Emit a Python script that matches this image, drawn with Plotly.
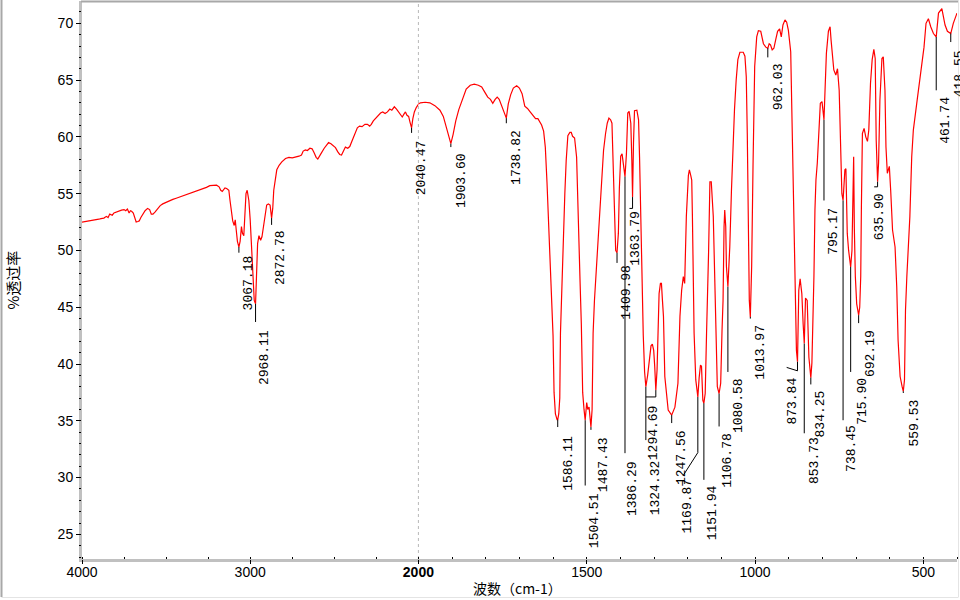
import plotly.graph_objects as go

# ---------------- spectrum data (wavenumber cm-1, %T) ----------------
wavenumber = [
    4000, 3975, 3950, 3925, 3900, 3887, 3870, 3855, 3845, 3835, 3820, 3810, 3795, 3780, 3765, 3750,
    3740, 3730, 3720, 3712, 3705, 3695, 3685, 3678, 3668, 3660, 3650, 3638, 3625, 3610, 3598, 3588,
    3578, 3565, 3550, 3535, 3520, 3500, 3480, 3460, 3440, 3420, 3400, 3380, 3360, 3340, 3320, 3300,
    3280, 3260, 3240, 3220, 3200, 3185, 3175, 3166, 3150, 3140, 3127, 3120, 3112, 3104, 3095, 3089,
    3083, 3076, 3067.18, 3060, 3052, 3046, 3038, 3031, 3025, 3018, 3008, 3000, 2992, 2984, 2976,
    2968.11, 2963, 2956, 2948, 2938, 2930, 2922, 2912, 2902, 2892, 2882, 2872.78, 2866, 2860, 2852,
    2842, 2828, 2812, 2790, 2770, 2750, 2730, 2710, 2695, 2685, 2672, 2660, 2645, 2632, 2620, 2608,
    2598, 2590, 2580, 2560, 2545, 2534, 2520, 2505, 2493, 2480, 2468, 2457, 2445, 2434, 2420, 2408,
    2396, 2386, 2374, 2363, 2350, 2335, 2318, 2303, 2290, 2280, 2268, 2256, 2240, 2225, 2212, 2198,
    2184, 2170, 2158, 2143, 2130, 2119, 2106, 2096, 2086, 2077, 2068, 2058, 2050, 2040.47, 2033, 2024,
    2012, 2000, 1994, 1980, 1966, 1951, 1936, 1926, 1917, 1910, 1903.6, 1897, 1889, 1880, 1869, 1858,
    1846, 1834, 1822, 1812, 1802, 1794, 1786, 1779, 1772, 1766, 1760, 1752, 1745, 1738.82, 1733, 1726,
    1718, 1708, 1700, 1692, 1684, 1676, 1668, 1660, 1652, 1645, 1640, 1634, 1628, 1623, 1618, 1614,
    1609, 1604, 1600, 1597, 1593, 1588, 1586.11, 1583, 1580, 1578, 1575, 1570, 1565, 1561, 1556, 1550,
    1546, 1542, 1536, 1530, 1527, 1524, 1520, 1516, 1512, 1508, 1504.51, 1500, 1497, 1493, 1490,
    1487.43, 1484, 1481, 1477, 1471, 1465, 1460, 1455, 1450, 1444, 1439, 1434, 1429, 1425, 1421, 1418,
    1414, 1409.98, 1406, 1403, 1399, 1395, 1390, 1386.29, 1382, 1378, 1374, 1369, 1366, 1363.79, 1361,
    1358, 1351, 1346, 1343, 1340, 1336, 1332, 1328, 1324.32, 1319, 1314, 1309, 1305, 1301, 1298,
    1294.69, 1291, 1288, 1285, 1281, 1278, 1275, 1272, 1268, 1258, 1247.56, 1238, 1229, 1223, 1218,
    1213, 1209, 1204, 1198, 1195, 1191, 1188, 1186, 1183, 1181, 1176, 1169.87, 1166, 1162, 1159, 1155,
    1151.94, 1148, 1144, 1141, 1138, 1134, 1130, 1124, 1120, 1116, 1112, 1106.78, 1102, 1098, 1095,
    1092, 1090, 1087, 1085, 1080.58, 1078, 1075, 1070, 1065, 1061, 1056, 1051, 1045, 1035, 1030, 1026,
    1023, 1020, 1017, 1013.97, 1010, 1006, 1001, 995, 990, 983, 975, 968, 962.03, 958, 954, 949, 944,
    939, 933, 927, 922, 917, 911, 906, 901, 894, 889, 885, 881, 877, 873.84, 870, 866, 861, 857, 853.73,
    850, 845, 840, 834.25, 831, 828, 825, 822, 819, 815, 811, 806, 801, 795.17, 792, 788, 782, 777, 774,
    770, 766, 760, 755, 750, 747, 742, 738.45, 733, 730, 726, 722, 715.9, 712, 709, 707, 705, 702, 698,
    692.19, 689, 686, 684, 681, 676, 671, 666, 662, 657, 652, 647, 643, 640, 635.9, 633, 629, 623, 619,
    614, 611, 607, 601, 597, 591.5, 584, 579, 575, 569, 563, 559.53, 556, 553, 549, 540, 534.5, 529.7,
    519.6, 512, 505, 498, 492, 485, 478, 470, 461.74, 455, 445, 440, 435.5, 428.5, 418.55, 411, 405, 400,
]
transmittance = [
    52.5, 52.55, 52.6, 52.7, 52.75, 52.8, 52.85, 53.0, 52.9, 53.2, 53.1, 53.3, 53.4, 53.5, 53.55, 53.6,
    53.5, 53.65, 53.3, 53.5, 53.45, 53.3, 52.8, 52.5, 52.55, 52.6, 52.9, 53.2, 53.5, 53.7, 53.6, 53.2,
    53.2, 53.4, 53.7, 53.95, 54.1, 54.25, 54.35, 54.5, 54.6, 54.7, 54.8, 54.95, 55.05, 55.15, 55.25, 55.35,
    55.45, 55.55, 55.7, 55.75, 55.75, 55.6, 55.3, 55.2, 55.5, 55.45, 55.3, 54.4, 53.4, 52.6, 52.2, 52.7,
    51.8, 50.8, 50.3, 50.8, 52.1, 51.5, 51.3, 53.0, 55.0, 55.3, 54.4, 52.7, 50.0, 46.8, 45.6,
    45.3, 48.0, 50.6, 51.3, 50.9, 51.2, 52.0, 53.0, 54.0, 54.1, 54.0, 52.85, 53.7, 55.3, 56.2,
    57.1, 57.5, 57.8, 58.1, 58.2, 58.15, 58.2, 58.3, 58.4, 58.75, 58.85, 58.8, 59.0, 58.95, 58.6, 58.2,
    58.05, 58.3, 58.5, 59.0, 59.35, 59.5, 59.4, 59.2, 59.05, 58.7, 58.45, 58.4, 58.8, 59.1, 59.0, 59.15,
    59.6, 60.0, 60.5, 60.8, 60.95, 60.9, 61.1, 61.1, 60.95, 61.1, 61.4, 61.6, 61.9, 62.1, 62.2, 62.05,
    62.2, 62.45, 62.35, 62.65, 62.45, 62.2, 61.9, 61.75, 62.0, 62.2, 61.9, 61.8, 61.3, 60.8, 61.6, 62.2,
    62.6, 62.9, 63.0, 63.05, 63.0, 62.75, 62.35, 61.8, 60.8, 59.9, 59.4, 60.2, 61.4, 62.4, 63.4, 64.2,
    64.55, 64.65, 64.55, 64.4, 63.9, 63.5, 63.3, 62.95, 63.3, 63.5, 63.3, 62.6, 62.0, 61.65, 62.9, 63.7,
    64.3, 64.5, 64.3, 63.8, 62.7, 62.5, 62.2, 61.9, 61.6, 61.6, 61.3, 61.05, 60.5, 59.1, 56.0, 52.9,
    50.0, 46.5, 42.5, 37.5, 35.6, 35.1, 35.1, 35.6, 37.0, 42.7, 45.8, 51.5, 55.0, 57.9, 60.1, 60.4,
    60.4, 60.05, 59.9, 58.2, 55.5, 52.5, 47.5, 43.5, 37.5, 36.0, 35.05, 36.6, 36.0, 36.2, 35.2,
    34.45, 36.0, 42.7, 45.6, 48.5, 51.6, 54.4, 57.3, 58.8, 60.3, 61.2, 61.65, 61.5, 61.2, 56.5, 53.0,
    50.0, 49.8, 51.5, 55.5, 58.3, 58.5, 57.5, 56.5, 58.5, 62.1, 62.25, 61.2, 58.0, 54.7, 59.5,
    62.3, 62.35, 61.5, 58.2, 52.9, 47.4, 42.5, 39.3, 38.0, 39.0, 40.5, 41.6, 41.75, 41.2, 39.8,
    37.7, 39.5, 43.9, 46.2, 47.1, 47.1, 45.6, 44.2, 38.9, 35.95, 35.5, 36.2, 38.3, 44.2, 46.5,
    47.7, 47.1, 53.0, 56.6, 57.1, 56.6, 56.2, 53.0, 47.7, 42.7, 38.6, 37.1, 38.8, 39.9, 39.8, 36.8,
    36.55, 37.4, 42.7, 45.6, 49.8, 56.05, 56.05, 53.0, 48.3, 41.2, 38.0, 37.4, 38.3, 43.0, 45.6,
    52.1, 53.55, 52.1, 48.6, 46.8, 48.0, 50.3, 55.3, 60.0, 62.4, 65.0, 66.8, 67.45, 67.45, 67.1, 65.3,
    60.3, 51.5, 45.6, 44.15, 48.6, 57.4, 66.2, 68.8, 69.35, 69.3, 68.2, 67.9, 67.8, 68.2, 68.1, 67.65, 67.8,
    68.5, 69.3, 69.5, 68.8, 69.85, 70.3, 70.1, 69.4, 67.5, 60.3, 51.8, 46.2, 41.2, 40.2, 46.5, 47.5, 46.2, 43.5, 41.8,
    45.8, 45.6, 40.6, 38.8, 40.1, 43.6, 47.7, 53.55, 56.2, 57.7, 60.0, 62.95, 63.1, 61.5, 64.1, 67.35, 69.3, 69.7, 68.5,
    66.8, 65.9, 65.45, 66.0, 64.1, 59.7, 55.0, 54.4, 57.1, 57.2, 51.5, 50.0, 48.55, 50.0, 54.4, 58.25, 52.0, 47.7, 45.3,
    44.3, 45.0, 47.7, 53.85, 60.3, 60.75, 60.0, 59.6, 60.6, 64.7, 66.8, 67.7, 66.9, 59.7, 56.05, 57.7, 63.25, 66.9, 67.05,
    64.1, 59.1, 56.8, 57.4, 55.3, 51.8, 50.3, 46.8, 42.1, 38.9, 38.0, 37.6, 38.6, 44.75, 47.7, 53.0, 58.25, 60.6,
    62.95, 64.7, 66.2, 67.9, 70.0, 70.4, 69.7, 69.1, 68.8, 70.9, 71.3, 70.6, 69.85, 69.3, 69.1, 70.0, 70.5, 70.9,
]

# ---------------- peak labels ----------------
peak_labels = ["3067.18", "2968.11", "2872.78", "2040.47", "1903.60", "1738.82", "1586.11", "1504.51",
               "1487.43", "1409.98", "1386.29", "1363.79", "1324.32", "1294.69", "1247.56", "1169.87",
               "1151.94", "1106.78", "1080.58", "1013.97", "962.03", "873.84", "853.73", "834.25",
               "795.17", "738.45", "715.90", "692.19", "635.90", "559.53", "461.74", "418.55"]
peak_T = [50.3, 45.3, 52.85, 60.8, 59.4, 61.65, 35.1, 35.05, 34.45, 49.8, 56.5, 54.7, 38.0, 37.7, 35.5, 37.1,
          36.55, 37.4, 46.8, 44.15, 67.8, 40.2, 41.8, 38.8, 61.5, 54.4, 48.55, 44.3, 56.05, 37.6, 68.8, 69.1]

# leader end (%T), text top (%T), text horizontal offset (px)
leader_end_T = [49.8, 43.7, 52.25, 60.35, 59.1, 61.2, 34.45, 29.3, 34.2, 48.9, 32.15, 53.7, 33.3, 37.1, 34.8,
                32.2, 29.8, 34.5, 39.3, 44.0, 67.0, 39.4, 33.9, 38.2, 54.4, 35.05, 39.3, 43.6, 55.6, 37.45,
                64.1, 68.35]
label_top_T = [49.6, 43.0, 51.8, 59.7, 58.6, 60.6, 33.7, 28.6, 33.6, 48.7, 31.5, 53.5, 31.55, 36.4, 34.2,
               29.95, 29.35, 33.9, 38.8, 43.45, 66.5, 38.8, 33.55, 37.7, 53.8, 34.6, 38.8, 43.0, 55.05, 36.85,
               63.5, 67.65]
label_dx = [10, 9, 9, 10, 10, 10, 10, 10, 12, 10, 7, 3, 10, -2, 10, -10, 9, 9, 10, 10, 11, -5, 10, 10, 10, 9,
            11, 12, 2, 11, 9, 9]
# extra leader vertices after the vertical drop
leader_bends = {"1363.79": [(1373.0, 53.7)], "1294.69": [(1324.32, 37.1)],
                "1169.87": [(1213.0, 30.2)], "873.84": [(906.0, 39.7)], "635.90": [(646.0, 55.6)]}

x_ticks_left = [4000, 3000]
x_ticks_right = [2000, 1500, 1000, 500]
x_ticktext_right = ["<b>2000</b>", "1500", "1000", "500"]
y_ticks = [25, 30, 35, 40, 45, 50, 55, 60, 65, 70]

SPLIT = 2000
RED = "#ff0000"

fig = go.Figure()

left_pts = [(w, t) for w, t in zip(wavenumber, transmittance) if w >= 1994]
right_pts = [(w, t) for w, t in zip(wavenumber, transmittance) if w <= 2006]
fig.add_trace(go.Scatter(x=[p[0] for p in left_pts], y=[p[1] for p in left_pts], mode="lines",
                         line=dict(color=RED, width=1.2), xaxis="x", yaxis="y", hoverinfo="skip"))
fig.add_trace(go.Scatter(x=[p[0] for p in right_pts], y=[p[1] for p in right_pts], mode="lines",
                         line=dict(color=RED, width=1.2), xaxis="x2", yaxis="y", hoverinfo="skip"))

# leader lines
lx = {"x": [], "x2": []}
ly = {"x": [], "x2": []}
annotations = []
for lab, pt, le, tt, dx in zip(peak_labels, peak_T, leader_end_T, label_top_T, label_dx):
    w = float(lab)
    ax = "x" if w > SPLIT else "x2"
    xs = [w, w]
    ys = [pt, le]
    for bw, bt in leader_bends.get(lab, []):
        xs.append(bw)
        ys.append(bt)
    lx[ax] += xs + [None]
    ly[ax] += ys + [None]
    annotations.append(dict(x=w, y=tt, xref=ax, yref="y", text=lab, showarrow=False,
                            textangle=-90, xanchor="center", yanchor="top", xshift=dx,
                            borderpad=0, borderwidth=0,
                            font=dict(family="Liberation Mono, DejaVu Sans Mono, monospace",
                                      size=13, color="#000000")))
for ax in ("x", "x2"):
    fig.add_trace(go.Scatter(x=lx[ax], y=ly[ax], mode="lines", line=dict(color="#000000", width=1),
                             xaxis=ax, yaxis="y", hoverinfo="skip", connectgaps=False))

# axis titles
annotations.append(dict(x=0.498, y=-0.052, xref="paper", yref="paper", text="波数（cm-1）",
                        showarrow=False, xanchor="center", yanchor="middle",
                        font=dict(family="Noto Sans CJK SC", size=14, color="#000000")))
annotations.append(dict(x=-0.080, y=0.50, xref="paper", yref="paper", text="%透过率",
                        showarrow=False, textangle=-90, xanchor="center", yanchor="middle",
                        font=dict(family="Noto Sans CJK SC", size=15, color="#000000")))

W_PLOT = 875.0
H_PLOT = 557.0
def px_x(p):
    return (p - 82.0) / W_PLOT
def px_y(p):
    return (559.0 - p) / H_PLOT

d_split = (418.4 - 82.0) / W_PLOT
band = "#c0c0c0"
shapes = [
    # grey axis bands
    dict(type="line", xref="paper", yref="paper", x0=px_x(80.5), x1=px_x(80.5), y0=px_y(1), y1=px_y(562),
         line=dict(color=band, width=3), layer="below"),
    dict(type="line", xref="paper", yref="paper", x0=px_x(79), x1=px_x(957), y0=px_y(560.5), y1=px_y(560.5),
         line=dict(color=band, width=3), layer="below"),
    # frame lines
    dict(type="line", xref="paper", yref="paper", x0=px_x(81), x1=px_x(958), y0=px_y(1.5), y1=px_y(1.5),
         line=dict(color="#a8a8a8", width=2), layer="below"),
    dict(type="line", xref="paper", yref="paper", x0=px_x(1.5), x1=px_x(1.5), y0=px_y(0), y1=px_y(597),
         line=dict(color="#a8a8a8", width=2), layer="below"),
    dict(type="line", xref="paper", yref="paper", x0=px_x(958.5), x1=px_x(958.5), y0=px_y(0), y1=px_y(597),
         line=dict(color="#e4e4e4", width=1), layer="below"),
    dict(type="line", xref="paper", yref="paper", x0=px_x(1.5), x1=px_x(958.5), y0=px_y(597.5), y1=px_y(597.5),
         line=dict(color="#e4e4e4", width=1), layer="below"),
    # dashed line at scale change
    dict(type="line", xref="paper", yref="paper", x0=d_split, x1=d_split, y0=0, y1=1,
         line=dict(color="#b8b8b8", width=1, dash="3px,3px"), layer="below"),
]

tickfont = dict(family="Liberation Sans, Arial, sans-serif", size=14, color="#000000")
fig.update_layout(
    width=960, height=600,
    margin=dict(l=82, r=3, t=2, b=41),
    paper_bgcolor="#ffffff", plot_bgcolor="#ffffff",
    showlegend=False,
    hovermode=False,
    xaxis=dict(domain=[0, d_split], range=[4000, 2000], anchor="y",
               tickmode="array", tickvals=x_ticks_left, ticks="outside", ticklen=4, tickwidth=1,
               tickcolor="#000000", showgrid=False, zeroline=False, showline=False, linewidth=1,
               tickfont=tickfont, ticklabelstandoff=-4,
               minor=dict(tickmode="linear", tick0=0, dtick=250, ticks="inside", ticklen=2,
                          tickcolor="#000000", showgrid=False)),
    xaxis2=dict(domain=[d_split, 1], range=[2000, 400], anchor="y",
                tickmode="array", tickvals=x_ticks_right, ticktext=x_ticktext_right,
                ticks="outside", ticklen=4, tickwidth=1,
                tickcolor="#000000", showgrid=False, zeroline=False, showline=False, linewidth=1,
                tickfont=tickfont, ticklabelstandoff=-4,
                minor=dict(tickmode="linear", tick0=0, dtick=100, ticks="inside", ticklen=2,
                           tickcolor="#000000", showgrid=False)),
    yaxis=dict(range=[22.83, 71.876], tickmode="array", tickvals=y_ticks, ticks="outside", ticklen=5,
               tickwidth=1, tickcolor="#000000", showgrid=False, zeroline=False, showline=False,
               linewidth=1, tickfont=tickfont,
               minor=dict(tickmode="linear", tick0=0, dtick=1, ticks="outside", ticklen=2,
                          tickcolor="#000000", showgrid=False)),
    annotations=annotations,
    shapes=shapes,
)

fig.write_html("out.html",
               config={"displayModeBar": False, "staticPlot": True},
               post_script="document.body.style.margin='0';document.body.style.padding='0';"
                           "document.documentElement.style.overflow='hidden';")
